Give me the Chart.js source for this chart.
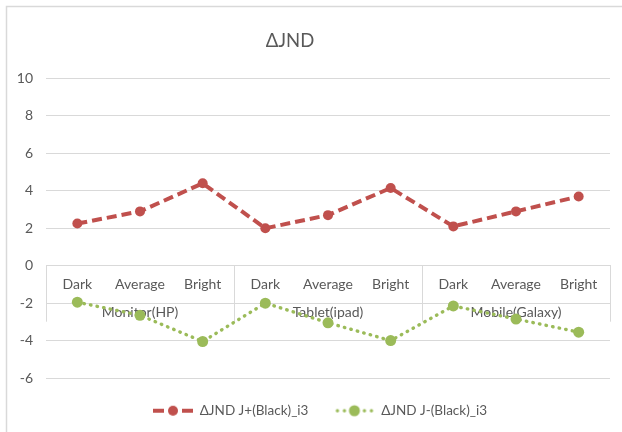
<!DOCTYPE html>
<html>
<head>
<meta charset="utf-8">
<script src="https://cdn.jsdelivr.net/npm/chart.js@4"></script>
<style>
  html, body { margin: 0; padding: 0; background: #ffffff; }
  #wrap { width: 622px; height: 432px; position: relative; }
</style>
</head>
<body>
<div id="wrap"><canvas id="c" width="622" height="432"></canvas></div>
<script>
// Device groups and brightness levels (two-level category axis)
const groups = ['Monitor(HP)', 'Tablet(ipad)', 'Mobile(Galaxy)'];
const categories = ['Dark', 'Average', 'Bright', 'Dark', 'Average', 'Bright', 'Dark', 'Average', 'Bright'];

// ΔJND values per condition
const jndPlus = [2.25, 2.9, 4.4, 2.0, 2.7, 4.15, 2.1, 2.9, 3.7];
const jndMinus = [-1.95, -2.65, -4.05, -2.0, -3.05, -4.0, -2.15, -2.85, -3.55];

const yTicks = [-6, -4, -2, 0, 2, 4, 6, 8, 10];

const RED = '#C0504D';
const GREEN = '#9BBB59';
const TEXT = '#595959';
const GRID = '#D9D9D9';
const FONT = 'Lato, "Liberation Sans", sans-serif';

// Legend symbol: line sample with marker, like the series style
function legendSymbol(color, dotted) {
  const cv = document.createElement('canvas');
  cv.width = 40; cv.height = 14;
  const g = cv.getContext('2d');
  g.fillStyle = color;
  g.strokeStyle = color;
  const cy = 7;
  if (dotted) {
    [3, 10, 30, 37].forEach(x => { g.beginPath(); g.arc(x, cy, 1.7, 0, Math.PI * 2); g.fill(); });
  } else {
    g.lineWidth = 4;
    g.beginPath(); g.moveTo(0, cy); g.lineTo(11, cy); g.stroke();
    g.beginPath(); g.moveTo(29, cy); g.lineTo(40, cy); g.stroke();
  }
  g.beginPath(); g.arc(20, cy, dotted ? 5.5 : 5, 0, Math.PI * 2); g.fill();
  return cv;
}

// Outer chart frame, title, and a small nudge of the legend row
const framePlugin = {
  id: 'frame',
  afterLayout(chart) {
    if (chart.legend) { chart.legend.left += 9; chart.legend.right += 9; }
  },
  beforeDraw(chart) {
    const ctx = chart.ctx;
    ctx.save();
    ctx.fillStyle = '#ffffff';
    ctx.fillRect(0, 0, chart.width, chart.height);
    ctx.strokeStyle = '#D9D9D9';
    ctx.lineWidth = 1.5;
    ctx.strokeRect(6.5, 6.5, chart.width + 20, chart.height + 20);
    ctx.restore();
  },
  afterDraw(chart) {
    const ctx = chart.ctx;
    ctx.save();
    ctx.fillStyle = TEXT;
    ctx.font = '18.5px ' + FONT;
    ctx.textAlign = 'center';
    ctx.textBaseline = 'middle';
    ctx.fillText('\u0394JND', 290, 41);
    ctx.restore();
  }
};

// Second category level: group separators and group names below the level labels
const groupAxisPlugin = {
  id: 'groupAxis',
  beforeDatasetsDraw(chart) {
    const xs = chart.scales.x, ys = chart.scales.y;
    const ctx = chart.ctx;
    const y0 = ys.getPixelForValue(0);
    const depth = 56;
    const per = categories.length / groups.length;
    ctx.save();
    ctx.strokeStyle = GRID;
    ctx.lineWidth = 1;
    const bounds = [];
    for (let g = 0; g <= groups.length; g++) {
      let bx;
      if (g === 0) bx = chart.chartArea.left;
      else if (g === groups.length) bx = chart.chartArea.right;
      else bx = (xs.getPixelForValue(g * per - 1) + xs.getPixelForValue(g * per)) / 2;
      bounds.push(bx);
      ctx.beginPath();
      ctx.moveTo(Math.round(bx) + 0.5, y0);
      ctx.lineTo(Math.round(bx) + 0.5, y0 + depth);
      ctx.stroke();
    }
    ctx.fillStyle = TEXT;
    ctx.font = '14px ' + FONT;
    ctx.textAlign = 'center';
    ctx.textBaseline = 'middle';
    groups.forEach((name, g) => {
      ctx.fillText(name, (bounds[g] + bounds[g + 1]) / 2, y0 + 47);
    });
    ctx.restore();
  }
};

new Chart(document.getElementById('c'), {
  type: 'line',
  data: {
    labels: categories,
    datasets: [
      {
        label: '\u0394JND J+(Black)_i3',
        data: jndPlus,
        borderColor: RED,
        backgroundColor: RED,
        borderWidth: 4,
        borderDash: [10, 5],
        borderCapStyle: 'butt',
        pointRadius: 5,
        pointBackgroundColor: RED,
        pointBorderWidth: 0,
        tension: 0,
        fill: false
      },
      {
        label: '\u0394JND J-(Black)_i3',
        data: jndMinus,
        borderColor: GREEN,
        backgroundColor: GREEN,
        borderWidth: 3.4,
        borderDash: [0.5, 6.2],
        borderCapStyle: 'round',
        pointRadius: 5.5,
        pointBackgroundColor: GREEN,
        pointBorderWidth: 0,
        tension: 0,
        fill: false
      }
    ]
  },
  options: {
    responsive: false,
    animation: false,
    devicePixelRatio: 1,
    layout: { padding: { left: 12, right: 12, top: 78.5, bottom: 4.5 } },
    scales: {
      x: {
        type: 'category',
        offset: true,
        position: { y: 0 },
        grid: { display: false, drawTicks: false },
        border: { display: true, color: GRID, width: 1 },
        ticks: {
          color: TEXT,
          font: { family: FONT, size: 14 },
          padding: 10.5,
          autoSkip: false,
          maxRotation: 0
        },
        afterFit(scale) { scale.height = 0; }
      },
      y: {
        min: -6,
        max: 10,
        grid: { color: GRID, drawTicks: false, lineWidth: 1 },
        border: { display: false },
        ticks: {
          color: TEXT,
          font: { family: FONT, size: 14 },
          padding: 13
        },
        afterBuildTicks(scale) { scale.ticks = yTicks.map(v => ({ value: v })); },
        afterFit(scale) { scale.width = 34; }
      }
    },
    plugins: {
      title: { display: false },
      tooltip: { enabled: false },
      legend: {
        display: true,
        position: 'bottom',
        labels: {
          color: TEXT,
          font: { family: FONT, size: 13.5 },
          usePointStyle: true,
          pointStyleWidth: 40,
          padding: 26,
          generateLabels(chart) {
            const items = Chart.defaults.plugins.legend.labels.generateLabels(chart);
            items[0].pointStyle = legendSymbol(RED, false);
            items[1].pointStyle = legendSymbol(GREEN, true);
            return items;
          }
        }
      }
    }
  },
  plugins: [framePlugin, groupAxisPlugin]
});
</script>
</body>
</html>
